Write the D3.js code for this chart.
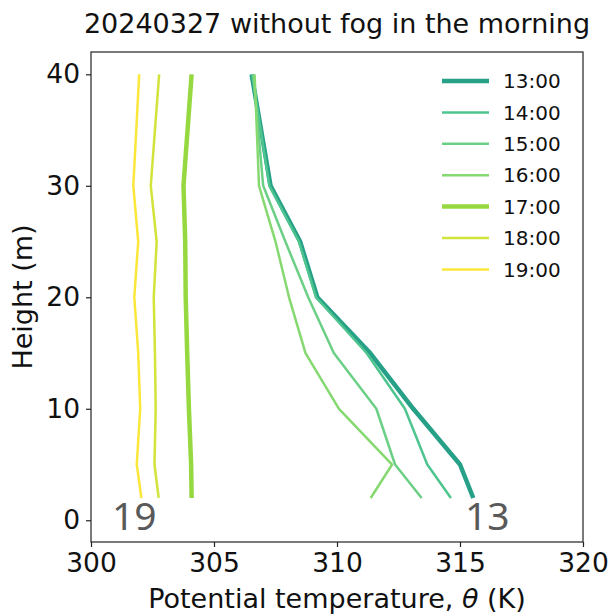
<!DOCTYPE html>
<html>
<head>
<meta charset="utf-8">
<script src="https://cdn.jsdelivr.net/npm/d3@7"></script>
<style>
  body { margin: 0; background: #fff; }
  svg { font-family: "DejaVu Sans", sans-serif; }
</style>
</head>
<body>
<div id="container"></div>
<script>
// heights of the observation levels (m)
const heights = [40, 30, 25, 20, 15, 10, 5, 2];

const times = ["13:00", "14:00", "15:00", "16:00", "17:00", "18:00", "19:00"];
const colors = ["#26a087", "#4ec48e", "#6ccf86", "#85d970", "#95d840", "#d2e33a", "#fbe73a"];
const widths = [4.5, 2.5, 2.5, 2.5, 4.5, 2.5, 2.5];

// potential temperature (K) per time, same order as heights
const theta13 = [306.53, 307.3, 308.5, 309.2, 311.35, 313.1, 315.0, 315.54];
const theta14 = [306.55, 307.25, 308.45, 309.15, 311.2, 312.76, 313.67, 314.63];
const theta15 = [306.6, 307.0, 307.9, 308.83, 309.87, 311.6, 312.36, 313.44];
const theta16 = [306.65, 306.83, 307.5, 308.05, 308.72, 310.08, 312.24, 311.37];
const theta17 = [304.09, 303.76, 303.83, 303.85, 303.91, 303.98, 304.07, 304.09];
const theta18 = [302.77, 302.43, 302.67, 302.55, 302.6, 302.63, 302.58, 302.75];
const theta19 = [301.96, 301.72, 301.92, 301.76, 301.92, 302.0, 301.86, 302.05];

const xTicks = [300, 305, 310, 315, 320];
const yTicks = [0, 10, 20, 30, 40];

const series = [theta13, theta14, theta15, theta16, theta17, theta18, theta19];

const width = 611, height = 616;
const margin = {top: 52, right: 28, bottom: 74, left: 91};

const svg = d3.select("#container").append("svg")
    .attr("width", width)
    .attr("height", height);

const x = d3.scaleLinear().domain([300, 320]).range([margin.left, width - margin.right]);
const y = d3.scaleLinear().domain([-1.95, 42]).range([height - margin.bottom, margin.top]);

// lines
const line = d3.line()
    .x(d => x(d[0]))
    .y(d => y(d[1]));

series.forEach((vals, i) => {
    svg.append("path")
        .datum(vals.map((v, j) => [v, heights[j]]))
        .attr("fill", "none")
        .attr("stroke", colors[i])
        .attr("stroke-width", widths[i])
        .attr("stroke-linejoin", "round")
        .attr("d", line);
});

// frame
svg.append("rect")
    .attr("x", margin.left)
    .attr("y", margin.top)
    .attr("width", width - margin.right - margin.left)
    .attr("height", height - margin.bottom - margin.top)
    .attr("fill", "none")
    .attr("stroke", "#222")
    .attr("stroke-width", 1.2);

// axes
const xAxis = svg.append("g")
    .attr("transform", `translate(0,${height - margin.bottom})`)
    .call(d3.axisBottom(x).tickValues(xTicks).tickSize(5).tickPadding(6));
const yAxis = svg.append("g")
    .attr("transform", `translate(${margin.left},0)`)
    .call(d3.axisLeft(y).tickValues(yTicks).tickSize(5).tickPadding(6));

[xAxis, yAxis].forEach(g => {
    g.select(".domain").remove();
    g.selectAll("line").attr("stroke", "#222").attr("stroke-width", 1.2);
    g.selectAll("text")
        .attr("fill", "#111")
        .style("font-family", "DejaVu Sans")
        .style("font-size", "26.5px");
});

// labels
svg.append("text")
    .attr("x", (margin.left + width - margin.right) / 2)
    .attr("y", 33)
    .attr("text-anchor", "middle")
    .attr("fill", "#111")
    .style("font-size", "27px")
    .text("20240327 without fog in the morning");

const xl = svg.append("text")
    .attr("x", (margin.left + width - margin.right) / 2)
    .attr("y", 608)
    .attr("text-anchor", "middle")
    .attr("fill", "#111")
    .style("font-size", "27px");
xl.append("tspan").text("Potential temperature, ");
xl.append("tspan").attr("font-style", "italic").text("θ");
xl.append("tspan").text(" (K)");

svg.append("text")
    .attr("transform", `translate(32,${(margin.top + height - margin.bottom) / 2}) rotate(-90)`)
    .attr("text-anchor", "middle")
    .attr("fill", "#111")
    .style("font-size", "27px")
    .text("Height (m)");

// legend
const legend = svg.append("g");
times.forEach((t, i) => {
    const ly = 81 + i * 31.4;
    legend.append("line")
        .attr("x1", 442).attr("x2", 489)
        .attr("y1", ly).attr("y2", ly)
        .attr("stroke", colors[i])
        .attr("stroke-width", widths[i]);
    legend.append("text")
        .attr("x", 503)
        .attr("y", ly)
        .attr("dy", "0.36em")
        .attr("fill", "#111")
        .style("font-size", "20px")
        .text(t);
});

// hour annotations
svg.append("text")
    .attr("x", x(300.85))
    .attr("y", y(-0.9))
    .attr("fill", "#595959")
    .style("font-family", "Noto Sans")
    .style("font-size", "39px")
    .text("19");
svg.append("text")
    .attr("x", x(315.2))
    .attr("y", y(-0.9))
    .attr("fill", "#595959")
    .style("font-family", "Noto Sans")
    .style("font-size", "39px")
    .text("13");
</script>
</body>
</html>
